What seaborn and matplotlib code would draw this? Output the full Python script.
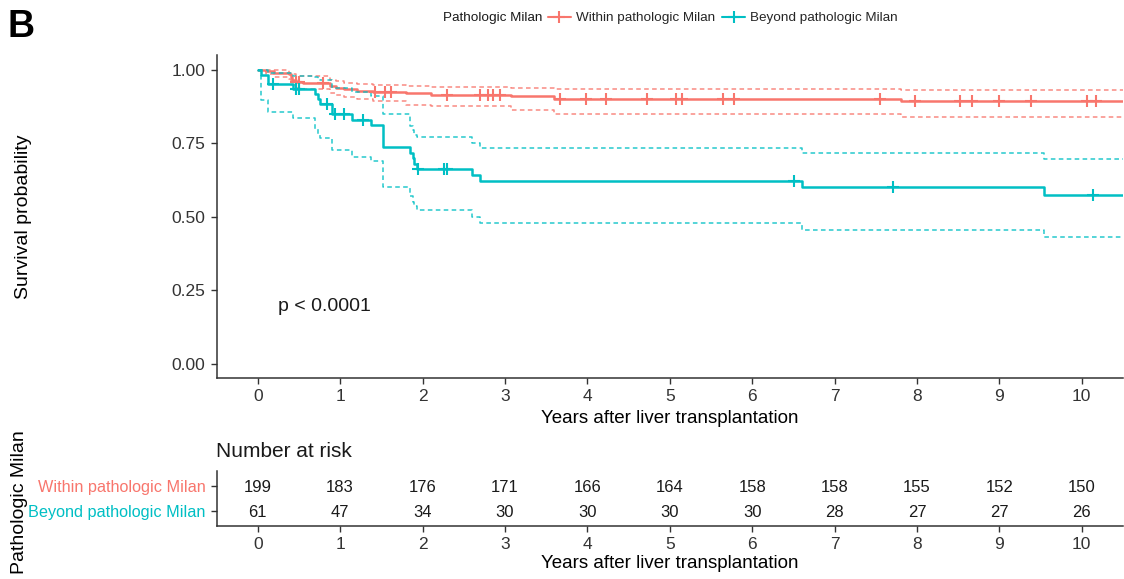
import numpy as np
import pandas as pd
import matplotlib
matplotlib.use("Agg")
import matplotlib.pyplot as plt
import seaborn as sns
from matplotlib.lines import Line2D

sns.set_theme(style="ticks")
plt.rcParams['font.family'] = ['Liberation Sans', 'DejaVu Sans']

RED = "#F8766D"
TEAL = "#00BFC4"

groups = ["Within pathologic Milan", "Beyond pathologic Milan"]

# Kaplan-Meier step estimates: time (years), survival, 95% CI bounds
within_time = [0, 0.10, 0.20, 0.38, 0.40, 0.42, 0.46, 0.55, 0.88, 0.95, 1.05, 1.20,
               1.40, 1.80, 2.10, 3.07, 3.60, 7.81, 10.6]
within_surv = [1.0, 0.995, 0.990, 0.985, 0.975, 0.965, 0.960, 0.955, 0.945, 0.940, 0.935, 0.930,
               0.925, 0.920, 0.915, 0.910, 0.901, 0.894, 0.894]
within_upper = [1.0, 1.0, 1.0, 0.990, 0.988, 0.985, 0.980, 0.978, 0.965, 0.961, 0.957, 0.953,
                0.949, 0.945, 0.941, 0.938, 0.935, 0.931, 0.931]
within_lower = [1.0, 0.985, 0.976, 0.968, 0.958, 0.948, 0.940, 0.934, 0.920, 0.914, 0.908, 0.902,
                0.893, 0.882, 0.876, 0.864, 0.849, 0.841, 0.841]
within_censor = [0.47, 0.50, 0.79, 1.42, 1.54, 1.62, 2.30, 2.70, 2.80, 2.86, 2.94, 3.67,
                 3.98, 4.23, 4.72, 5.07, 5.15, 5.65, 5.78, 7.55, 7.97, 8.52, 8.67, 8.99,
                 9.38, 10.06, 10.17]

beyond_time = [0, 0.04, 0.125, 0.43, 0.69, 0.73, 0.76, 0.90, 1.15, 1.38, 1.52, 1.85,
               1.88, 1.90, 1.93, 2.60, 2.70, 6.60, 9.54, 10.6]
beyond_surv = [1.0, 0.984, 0.951, 0.934, 0.917, 0.900, 0.884, 0.849, 0.831, 0.813, 0.737, 0.718,
               0.699, 0.680, 0.661, 0.641, 0.622, 0.601, 0.575, 0.575]
beyond_upper = [1.0, 1.0, 0.990, 0.980, 0.975, 0.970, 0.965, 0.940, 0.925, 0.912, 0.850, 0.810,
                0.795, 0.780, 0.771, 0.752, 0.735, 0.716, 0.696, 0.696]
beyond_lower = [1.0, 0.898, 0.858, 0.838, 0.800, 0.780, 0.767, 0.727, 0.705, 0.690, 0.600, 0.570,
                0.550, 0.535, 0.523, 0.500, 0.478, 0.455, 0.430, 0.430]
beyond_censor = [0.18, 0.46, 0.50, 0.84, 0.94, 1.05, 1.28, 1.95, 2.26, 2.30, 6.51, 7.71, 10.14]

# Number at risk
risk_times = [0, 1, 2, 3, 4, 5, 6, 7, 8, 9, 10]
within_risk = [199, 183, 176, 171, 166, 164, 158, 158, 155, 152, 150]
beyond_risk = [61, 47, 34, 30, 30, 30, 30, 28, 27, 27, 26]

W, H = 1124, 579
fig = plt.figure(figsize=(W / 100, H / 100), dpi=100)

def frac_box(left, top, right, bottom):
    return [left / W, 1 - bottom / H, (right - left) / W, (bottom - top) / H]

ax = fig.add_axes(frac_box(216.5, 55.3, 1123, 378.2))
axr = fig.add_axes(frac_box(216.5, 471, 1123, 526))

TICK_C = "#333333"
AX_C = "#333333"

def step_value(times, values, t):
    idx = np.searchsorted(np.asarray(times), t, side="right") - 1
    return np.asarray(values)[idx]

series = [
    (within_time, within_surv, within_upper, within_lower, within_censor, RED),
    (beyond_time, beyond_surv, beyond_upper, beyond_lower, beyond_censor, TEAL),
]

for times, surv, upper, lower, censor, col in series:
    df = pd.DataFrame({"time": times, "surv": surv, "upper": upper, "lower": lower})
    for bound in ("upper", "lower"):
        sns.lineplot(data=df, x="time", y=bound, estimator=None, sort=False, ax=ax,
                     color=col, lw=1.1, linestyle=(0, (3, 2.2)), alpha=0.85,
                     drawstyle="steps-post")
    sns.lineplot(data=df, x="time", y="surv", estimator=None, sort=False, ax=ax,
                 color=col, lw=1.8, drawstyle="steps-post")
    cdf = pd.DataFrame({"time": censor,
                        "surv": [step_value(times, surv, t) for t in censor]})
    sns.scatterplot(data=cdf, x="time", y="surv", ax=ax, marker="+", s=80,
                    linewidth=1.5, color=col, zorder=5)

ax.set_xlim(-0.5, 10.5)
ax.set_ylim(-0.05, 1.05)
ax.set_xticks(risk_times)
ax.set_yticks([0, 0.25, 0.5, 0.75, 1.0])
ax.set_yticklabels(["0.00", "0.25", "0.50", "0.75", "1.00"])
ax.set_xlabel("Years after liver transplantation", fontsize=13.5, color="black", labelpad=4)
ax.set_ylabel("Survival probability", fontsize=14, color="black", labelpad=10)
ax.tick_params(axis="both", labelsize=12.5, colors=AX_C, labelcolor=TICK_C,
               length=4, width=1, pad=4)
for s in ("top", "right"):
    ax.spines[s].set_visible(False)
for s in ("left", "bottom"):
    ax.spines[s].set_color(AX_C)
    ax.spines[s].set_linewidth(1.1)
ax.yaxis.set_label_coords(-0.203, 0.5)
ax.text(0.25, 0.193, "p < 0.0001", fontsize=14, color="#1a1a1a", ha="left", va="center")

# Risk table
axr.set_xlim(-0.5, 10.5)
axr.set_ylim(0.4, 2.6)
for row, counts in ((2, within_risk), (1, beyond_risk)):
    for t, n in zip(risk_times, counts):
        axr.text(t, row, str(n), fontsize=12, ha="center", va="center_baseline",
                 color="#1a1a1a")
axr.set_xticks(risk_times)
axr.set_yticks([2, 1])
axr.set_yticklabels(groups)
axr.tick_params(axis="both", colors=AX_C, length=4, width=1, pad=4)
axr.tick_params(axis="x", labelsize=12.5, labelcolor=TICK_C)
for lab, col in zip(axr.get_yticklabels(), (RED, TEAL)):
    lab.set_color(col)
    lab.set_fontsize(11.7)
for s in ("top", "right"):
    axr.spines[s].set_visible(False)
for s in ("left", "bottom"):
    axr.spines[s].set_color(AX_C)
    axr.spines[s].set_linewidth(1.1)
axr.set_xlabel("Years after liver transplantation", fontsize=13.5, color="black", labelpad=2)
axr.set_ylabel("")
axr.set_title("Number at risk", loc="left", fontsize=15, color="#1a1a1a", pad=10)

fig.text(20 / W, 1 - 502 / H, "Pathologic Milan", rotation=90, fontsize=14,
         ha="center", va="center", color="black")

# Legend strip
fig.text(443 / W, 1 - 18 / H, "Pathologic Milan", fontsize=9.7, ha="left", va="center",
         color="#1a1a1a")
handles = [Line2D([0], [0], color=c, lw=1.5, marker="+", markersize=9, mew=1.5)
           for c in (RED, TEAL)]
fig.legend(handles, groups, loc="center left", bbox_to_anchor=(548 / W, 1 - 18 / H),
           ncol=2, frameon=False, fontsize=9.7, handlelength=1.7, handletextpad=0.4,
           columnspacing=0.5, borderaxespad=0, borderpad=0)

fig.text(7 / W, 1 - 27 / H, "B", fontsize=27, fontweight="bold", ha="left", va="center",
         color="black")

fig.savefig("out.png", dpi=100)
